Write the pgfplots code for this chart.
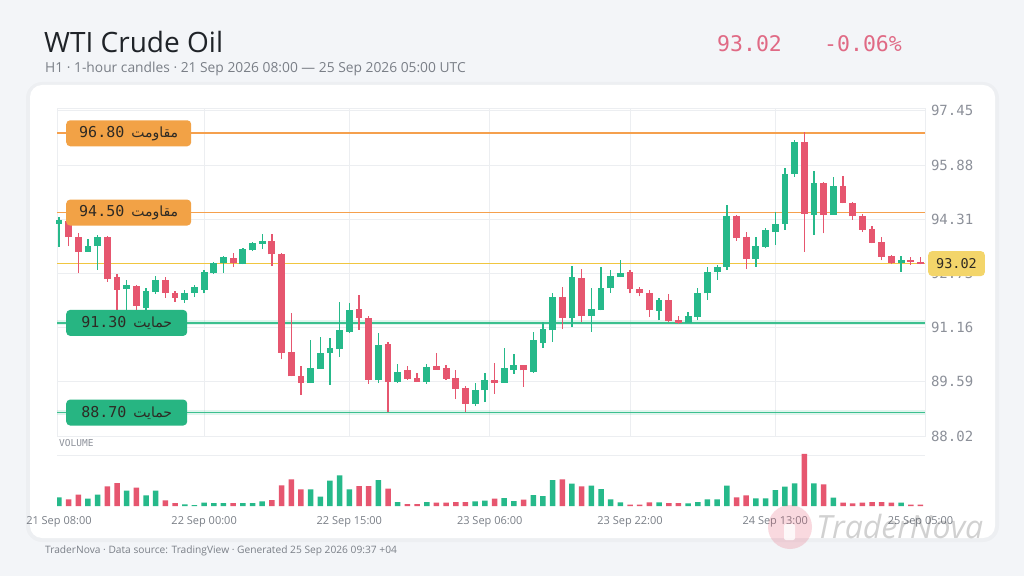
\documentclass[border=0pt]{standalone}
\usepackage{pgfplots}
\pgfplotsset{compat=1.18}
\usepackage{pgfplotstable}
\usepackage{fontspec}
\setmainfont{Open Sans}
\newfontfamily\mono{DejaVu Sans Mono}
\newfontfamily\arabicfont[Script=Arabic]{DejaVu Sans}
\TeXXeTstate=1
\definecolor{bgc}{HTML}{F3F5F8}
\definecolor{upc}{HTML}{26B98A}
\definecolor{dnc}{HTML}{E6566F}
\definecolor{gridc}{HTML}{ECEEF1}
\definecolor{tickc}{HTML}{8C9099}
\definecolor{titlec}{HTML}{1F2328}
\definecolor{subc}{HTML}{7A7F87}
\definecolor{pinkc}{HTML}{E06A85}
\definecolor{orl}{HTML}{F5A04D}
\definecolor{orbox}{HTML}{F2A246}
\definecolor{grl}{HTML}{3CC08F}
\definecolor{grbox}{HTML}{27B582}
\definecolor{yel}{HTML}{F0C640}
\definecolor{yelbox}{HTML}{F3D56A}
\definecolor{darktxt}{HTML}{2E2A24}

\pgfplotstableread{
i o h l c v
0 94.17 94.38 93.51 94.29 87
3 93.37 93.72 93.37 93.54 73
4 93.53 93.85 92.84 93.78 113
7 92.29 92.55 91.68 92.40 153
9 91.72 92.32 91.60 92.23 107
10 92.20 92.66 92.15 92.55 153
13 91.97 92.26 91.88 92.17 17
14 92.17 92.40 92.05 92.35 10
15 92.26 92.84 92.16 92.79 33
16 92.76 93.08 92.73 93.05 30
17 93.03 93.25 92.76 93.20 30
19 93.01 93.48 93.00 93.44 30
20 93.40 93.65 93.38 93.61 30
21 93.59 93.88 93.44 93.69 47
26 89.55 90.81 89.55 89.99 167
27 89.97 90.89 89.97 90.44 93
28 90.42 90.86 89.50 90.57 253
29 90.54 91.92 90.32 91.10 307
30 91.05 91.87 91.00 91.68 167
33 89.63 91.00 89.55 90.66 260
35 89.60 90.10 89.55 89.87 40
38 89.60 90.10 89.53 90.03 40
43 88.95 89.55 88.89 89.36 47
44 89.34 89.85 89.00 89.65 53
46 89.57 90.57 89.57 89.99 80
47 89.94 90.40 89.82 90.08 50
49 89.89 91.05 89.86 90.79 110
50 90.73 91.34 90.57 91.12 100
51 91.08 92.16 90.76 92.04 260
53 91.44 92.95 91.18 92.63 223
55 91.50 92.31 91.05 91.70 203
56 91.68 92.93 91.66 92.31 170
57 92.31 92.84 92.18 92.66 67
58 92.63 93.11 92.63 92.76 37
62 91.65 92.02 91.37 91.95 37
65 91.31 91.62 91.31 91.50 27
66 91.48 92.31 91.37 92.18 40
67 92.16 92.93 91.97 92.79 67
68 92.79 92.97 92.55 92.93 67
69 92.93 94.72 92.84 94.40 203
72 93.15 93.80 92.93 93.53 77
73 93.51 94.04 93.46 93.99 77
74 93.95 94.53 93.56 94.17 160
75 94.17 95.79 94.00 95.62 193
76 95.62 96.61 95.54 96.56 227
78 94.43 95.72 93.85 95.37 227
80 94.43 95.54 94.43 95.27 83
87 93.05 93.24 92.79 93.11 33
}\upT

\pgfplotstableread{
i o h l c v
1 94.27 94.32 93.53 93.79 67
2 93.80 93.92 92.76 93.37 113
5 93.79 93.82 92.50 92.57 197
6 92.64 92.72 91.68 92.26 230
8 92.37 92.40 91.65 91.80 183
11 92.55 92.62 92.03 92.17 57
12 92.17 92.23 91.91 92.03 30
18 93.18 93.32 92.92 93.03 30
22 93.69 93.88 92.95 93.29 60
23 93.29 93.32 90.25 90.44 207
24 90.47 91.60 89.75 89.75 267
25 89.77 90.06 89.21 89.57 167
31 91.70 92.11 91.10 91.44 200
32 91.44 91.50 89.53 89.65 200
34 90.69 90.75 88.73 89.60 173
36 89.94 90.05 89.65 89.68 20
37 89.70 89.85 89.58 89.60 20
39 90.05 90.44 89.94 89.94 35
40 89.99 90.08 89.65 89.68 35
41 89.70 89.94 89.09 89.38 40
42 89.41 89.46 88.73 88.95 40
45 89.65 90.13 89.24 89.55 73
48 90.08 90.08 89.45 89.92 63
52 92.04 92.34 91.12 91.44 267
54 92.60 92.86 91.34 91.50 197
59 92.79 92.84 92.16 92.28 13
60 92.28 92.34 92.07 92.16 13
61 92.18 92.24 91.48 91.66 37
63 91.95 92.14 91.34 91.36 30
64 91.37 91.50 91.27 91.31 30
70 94.40 94.42 93.69 93.76 87
71 93.80 93.95 92.86 93.15 107
77 96.56 96.85 93.37 94.46 520
79 95.37 95.40 93.90 94.43 217
81 95.27 95.56 94.77 94.79 33
82 94.79 94.82 94.29 94.39 27
83 94.40 94.46 93.95 94.00 33
84 94.02 94.12 93.61 93.63 40
85 93.66 93.79 93.11 93.22 40
86 93.24 93.27 93.01 93.05 33
88 93.11 93.20 92.98 93.08 13
89 93.08 93.21 93.00 93.02 13
}\dnT

\begin{document}
\begin{tikzpicture}
\useasboundingbox (0pt,0pt) rectangle (1024pt,576pt);
\fill[bgc] (0pt,0pt) rectangle (1024pt,576pt);
\fill[black, opacity=0.025, rounded corners=16pt] (26pt,34pt) rectangle (999pt,494pt);
\fill[white, rounded corners=12pt] (30pt,38pt) rectangle (995pt,491pt);

\node[anchor=base west, inner sep=0pt, text=titlec, font=\fontsize{28}{32}\selectfont] at (44pt,523pt) {WTI Crude Oil};
\node[anchor=base west, inner sep=0pt, text=subc, font=\fontsize{13.8}{15}\selectfont] at (45pt,503pt) {H1 · 1-hour candles · 21 Sep 2026 08:00 — 25 Sep 2026 05:00 UTC};
\node[anchor=base west, inner sep=0pt, text=pinkc, font=\mono\fontsize{21.5}{24}\selectfont] at (717pt,524pt) {93.02};
\node[anchor=base west, inner sep=0pt, text=pinkc, font=\mono\fontsize{21.5}{24}\selectfont] at (824pt,524pt) {-0.06\%};

\begin{axis}[
  at={(57pt,468pt)}, anchor=north west, scale only axis,
  width=868pt, height=328pt,
  xmin=-0.2, xmax=89.47, ymin=88.02, ymax=97.533,
  clip=false,
  axis line style={draw=gridc},
  grid=major, major grid style={draw=gridc, line width=0.8pt},
  major tick length=0pt,
  xtick={15,30,44.5,59,74}, xticklabels={},
  ytick={88.02,89.59,91.16,92.73,94.31,95.88,97.45},
  yticklabels={88.02,89.59,91.16,92.73,94.31,95.88,97.45},
  yticklabel pos=right,
  yticklabel style={font=\mono\fontsize{14}{15}\selectfont, text=tickc, anchor=west, xshift=2.5pt},
]
% level lines
\addplot[orl, line width=1.7pt, forget plot] coordinates {(-0.2,96.80) (89.47,96.80)};
\addplot[orl, line width=1.7pt, forget plot] coordinates {(-0.2,94.50) (89.47,94.50)};
\addplot[grl, opacity=0.15, line width=5pt, forget plot] coordinates {(-0.2,91.30) (89.47,91.30)};
\addplot[grl, line width=1.7pt, forget plot] coordinates {(-0.2,91.30) (89.47,91.30)};
\addplot[grl, opacity=0.15, line width=5pt, forget plot] coordinates {(-0.2,88.70) (89.47,88.70)};
\addplot[grl, line width=1.7pt, forget plot] coordinates {(-0.2,88.70) (89.47,88.70)};
\addplot[yel, line width=1.1pt, forget plot] coordinates {(-0.2,93.02) (89.47,93.02)};
% wicks
\addplot[draw=none, forget plot, error bars/.cd, y dir=plus, y explicit, error mark=none,
  error bar style={draw=upc, line width=1.3pt}]
  table[x=i, y=l, y error expr=\thisrow{h}-\thisrow{l}] \upT;
\addplot[draw=none, forget plot, error bars/.cd, y dir=plus, y explicit, error mark=none,
  error bar style={draw=dnc, line width=1.3pt}]
  table[x=i, y=l, y error expr=\thisrow{h}-\thisrow{l}] \dnT;
% bodies
\addplot[draw=none, forget plot, error bars/.cd, y dir=plus, y explicit, error mark=none,
  error bar style={draw=upc, line width=6.8pt}]
  table[x=i, y expr={min(\thisrow{o},\thisrow{c})}, y error expr={max(abs(\thisrow{c}-\thisrow{o}),0.05)}] \upT;
\addplot[draw=none, forget plot, error bars/.cd, y dir=plus, y explicit, error mark=none,
  error bar style={draw=dnc, line width=6.8pt}]
  table[x=i, y expr={min(\thisrow{o},\thisrow{c})}, y error expr={max(abs(\thisrow{c}-\thisrow{o}),0.05)}] \dnT;
% labels
\node[anchor=west, fill=orbox, rounded corners=4pt, minimum width=125pt, minimum height=26pt, inner xsep=6pt, text=darktxt]
  at (axis cs:0.73,96.80) {{\mono\fontsize{15}{16}\selectfont 96.80}\hspace{7pt}{\arabicfont\fontsize{14}{15}\selectfont\beginR مقاومت\endR}};
\node[anchor=west, fill=orbox, rounded corners=4pt, minimum width=125pt, minimum height=26pt, inner xsep=6pt, text=darktxt]
  at (axis cs:0.73,94.50) {{\mono\fontsize{15}{16}\selectfont 94.50}\hspace{7pt}{\arabicfont\fontsize{14}{15}\selectfont\beginR مقاومت\endR}};
\node[anchor=west, fill=grbox, rounded corners=4pt, minimum width=121pt, minimum height=26pt, inner xsep=6pt, text=darktxt]
  at (axis cs:0.73,91.30) {{\mono\fontsize{15}{16}\selectfont 91.30}\hspace{7pt}{\arabicfont\fontsize{14}{15}\selectfont\beginR حمایت\endR}};
\node[anchor=west, fill=grbox, rounded corners=4pt, minimum width=121pt, minimum height=26pt, inner xsep=6pt, text=darktxt]
  at (axis cs:0.73,88.70) {{\mono\fontsize{15}{16}\selectfont 88.70}\hspace{7pt}{\arabicfont\fontsize{14}{15}\selectfont\beginR حمایت\endR}};
\node[anchor=west, fill=yelbox, rounded corners=4pt, minimum height=25pt, inner xsep=8pt, text=darktxt, font=\mono\fontsize{13.5}{14}\selectfont]
  at (axis cs:89.47,93.02) [xshift=3pt] {93.02};
\end{axis}

\node[anchor=west, inner sep=0pt, text=tickc, font=\mono\fontsize{9.5}{10}\selectfont] at (59pt,133pt) {VOLUME};
\draw[gridc, line width=0.8pt] (57pt,121pt) -- (925pt,121pt);

\begin{axis}[
  at={(57pt,70pt)}, anchor=south west, scale only axis,
  width=868pt, height=52pt,
  xmin=-0.2, xmax=89.47, ymin=0, ymax=520,
  axis line style={draw=none},
  major tick length=0pt,
  ytick=\empty,
  xtick={0,15,30,44.5,59,74,89},
  xticklabels={21 Sep 08:00,22 Sep 00:00,22 Sep 15:00,23 Sep 06:00,23 Sep 22:00,24 Sep 13:00,25 Sep 05:00},
  xticklabel style={font=\fontsize{11}{12}\selectfont, text=subc, yshift=-7pt},
  ybar, bar width=5.5pt,
]
\addplot[fill=upc, draw=none, bar shift=0pt] table[x=i, y=v] \upT;
\addplot[fill=dnc, draw=none, bar shift=0pt] table[x=i, y=v] \dnT;
\end{axis}

% watermark
\fill[dnc, opacity=0.22] (790pt,49pt) circle (22pt);
\fill[white, opacity=0.8, rounded corners=2pt] (784pt,36pt) rectangle (795pt,52pt);
\node[anchor=base west, inner sep=0pt, text=black, opacity=0.18, font=\itshape\fontsize{32}{36}\selectfont] at (816pt,38pt) {TraderNova};

\node[anchor=base west, inner sep=0pt, text=subc, font=\fontsize{10.2}{12}\selectfont] at (45pt,23pt) {TraderNova · Data source: TradingView · Generated 25 Sep 2026 09:37 +04};
\end{tikzpicture}
\end{document}
